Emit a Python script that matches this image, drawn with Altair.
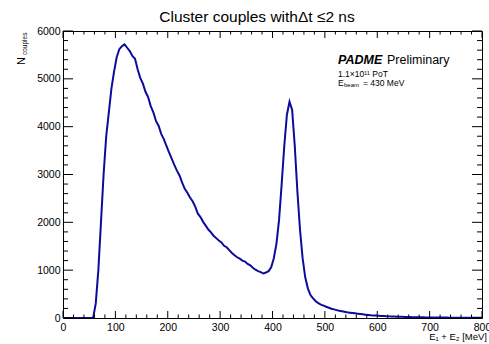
import altair as alt
import pandas as pd

# ---------------- data ----------------
bin_width = 5  # MeV
counts = [
    0, 0, 0, 0, 0, 0, 0, 0, 0, 0, 0, 0,                      # 0-55
    300, 1000, 2000, 3000, 3800, 4300, 4800, 5150,             # 60-95
    5450, 5620, 5680, 5720, 5650, 5580, 5480, 5420,            # 100-135
    5200, 5020, 4900, 4730, 4620, 4430, 4300, 4120,            # 140-175
    4020, 3850, 3740, 3600, 3460, 3330, 3200, 3080,            # 180-215
    2980, 2830, 2700, 2620, 2520, 2440, 2330, 2180,            # 220-255
    2110, 2010, 1930, 1850, 1790, 1720, 1670, 1620,            # 260-295
    1580, 1510, 1480, 1420, 1360, 1310, 1270, 1240,            # 300-335
    1200, 1180, 1130, 1100, 1050, 1010, 980, 960,              # 340-375
    930, 950, 980, 1060, 1250, 1550, 2050, 2800,               # 380-415
    3600, 4250, 4520, 4350, 3600, 2650, 1850, 1250,            # 420-455
    850, 620, 480, 410, 350, 310, 280, 260,                    # 460-495
    235, 215, 195, 180, 165, 150, 140, 130,                    # 500-535
    120, 112, 105, 98, 90, 83, 76, 70,                         # 540-575
    64, 58, 54, 50, 46, 43, 40, 37,                            # 580-615
    34, 32, 30, 28, 26, 24, 22, 21,                            # 620-655
    20, 18, 17, 16, 15, 14, 13, 12,                            # 660-695
    11, 11, 10, 9, 9, 8, 8, 7,                                 # 700-735
    7, 6, 6, 5, 5, 5, 4, 4,                                    # 740-775
    4, 3, 3, 3,                                                # 780-795
]
x_major = list(range(0, 801, 100))
x_minor = [v for v in range(0, 801, 20) if v % 100]
y_major = list(range(0, 6001, 1000))
y_minor = [v for v in range(0, 6001, 200) if v % 1000]

title_text = "Cluster couples with\u0394t \u22642 ns"

# ---------------- layout ----------------
W, H = 419, 287
FONT = "Liberation Sans"
BLUE = "#0c0c9c"

centers = [i * bin_width + bin_width / 2 for i in range(len(counts))]
hist = pd.DataFrame({"E": [0.0] + centers + [800.0],
                     "N": [0] + counts + [counts[-1]]})

xscale = alt.Scale(domain=[0, 800], nice=False, zero=False)
yscale = alt.Scale(domain=[0, 6000], nice=False)

xaxis = alt.Axis(values=x_major, title=None, ticks=False, domain=False, grid=False,
                 format="d", labelFont=FONT, labelFontSize=10.5, labelColor="black",
                 labelPadding=4, labelFlush=False, labelOverlap=False)
yaxis = alt.Axis(values=y_major, title=None, ticks=False, domain=False, grid=False,
                 format="d", labelFont=FONT, labelFontSize=10.5, labelColor="black",
                 labelPadding=3, labelFlush=False, labelOverlap=False)

line = alt.Chart(hist).mark_line(
    color=BLUE, strokeWidth=2, clip=True
).encode(
    x=alt.X("E:Q", scale=xscale, axis=xaxis),
    y=alt.Y("N:Q", scale=yscale, axis=yaxis),
)


def xticks(vals, length):
    d = pd.DataFrame({"E": vals})
    bottom = alt.Chart(d).mark_rule(color="black", strokeWidth=1).encode(
        x=alt.X("E:Q", scale=xscale, axis=xaxis),
        y=alt.value(H), y2=alt.value(H - length))
    top = alt.Chart(d).mark_rule(color="black", strokeWidth=1).encode(
        x=alt.X("E:Q", scale=xscale, axis=xaxis),
        y=alt.value(0), y2=alt.value(length))
    return [bottom, top]


def yticks(vals, length):
    d = pd.DataFrame({"N": vals})
    left = alt.Chart(d).mark_rule(color="black", strokeWidth=1).encode(
        y=alt.Y("N:Q", scale=yscale, axis=yaxis),
        x=alt.value(0), x2=alt.value(length))
    right = alt.Chart(d).mark_rule(color="black", strokeWidth=1).encode(
        y=alt.Y("N:Q", scale=yscale, axis=yaxis),
        x=alt.value(W), x2=alt.value(W - length))
    return [left, right]


one = pd.DataFrame({"a": [0]})


def txt(text, x, y, size, align="left", angle=0, weight="normal", style="normal"):
    kw = dict(text=text, font=FONT, fontSize=size, align=align,
              baseline="alphabetic", color="black", fontWeight=weight,
              fontStyle=style)
    if angle:
        kw["angle"] = angle
    return alt.Chart(one).mark_text(**kw).encode(x=alt.value(x), y=alt.value(y))


texts = [
    txt(title_text, 194, -9.5, 15.5, align="center"),
    txt("PADME", 275, 33, 12.5, weight="bold", style="italic"),
    txt("Preliminary", 324, 33, 12.5),
    txt("1.1\u00d710\u00b9\u00b9 PoT", 275, 46, 8.5),
    txt("E", 275, 54.5, 8.5),
    txt("beam", 281, 56, 6),
    txt("= 430 MeV", 300, 54.5, 8.5),
    txt("N", -38, 34, 11, angle=270),
    txt("couples", -36, 24, 6.5, angle=270),
    txt("E\u2081 + E\u2082 [MeV]", 424, 309, 9.5, align="right"),
]

layers = [line] + xticks(x_major, 7) + xticks(x_minor, 3.5) + \
    yticks(y_major, 10) + yticks(y_minor, 5) + texts

chart = alt.layer(*layers).properties(
    width=W, height=H,
    autosize=alt.AutoSizeParams(type="none"),
    padding={"left": 63, "top": 31, "right": 7, "bottom": 26},
    background="white",
).configure_view(stroke="black", strokeWidth=1)

chart.save("out.html", embed_options={"renderer": "svg", "actions": False})
